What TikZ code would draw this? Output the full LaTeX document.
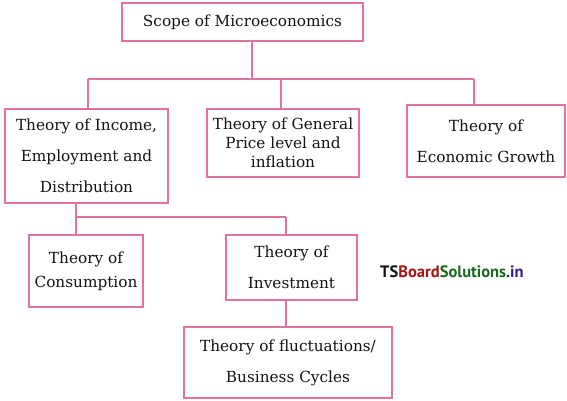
\documentclass[tikz,border=0pt]{standalone}
\usepackage{fontspec}
\setmainfont{DejaVu Serif}
\newfontfamily\wmfont{PT Sans}
\definecolor{linepink}{RGB}{228,112,160}
\definecolor{txt}{RGB}{20,20,20}
\definecolor{wmred}{RGB}{160,20,20}
\definecolor{wmgreen}{RGB}{25,105,30}
\definecolor{wmblue}{RGB}{55,25,140}
\begin{document}
\begin{tikzpicture}[x=1pt,y=-1pt,
  box/.style={draw=linepink, line width=1.1pt, rectangle, inner sep=0pt, align=center, text=txt},
  link/.style={draw=linepink, line width=1.1pt},
  wide/.style={font=\fontsize{15.3}{31}\selectfont},
  mid/.style={font=\fontsize{15.3}{24}\selectfont},
  tight/.style={font=\fontsize{15.3}{19}\selectfont}]
\useasboundingbox (0,0) rectangle (567,400);
\fill[white] (0,0) rectangle (567,400);
\node[box, wide, minimum width=241pt, minimum height=38pt] (top) at (242.5,22) {Scope of Microeconomics};
\node[box, wide, minimum width=163pt, minimum height=94pt] (inc) at (86.5,156) {Theory of Income,\\Employment and\\Distribution};
\node[box, tight, minimum width=152pt, minimum height=68pt] (gen) at (283,143) {Theory of General\\Price level and\\inflation};
\node[box, wide, minimum width=158pt, minimum height=72pt] (gro) at (486,141) {Theory of\\Economic Growth};
\node[box, mid, minimum width=114pt, minimum height=72pt] (con) at (86,271) {Theory of\\Consumption};
\node[box, wide, minimum width=131pt, minimum height=65pt] (inv) at (291.5,267.5) {Theory of\\Investment};
\node[box, wide, minimum width=208pt, minimum height=71pt] (flu) at (288,362.5) {Theory of fluctuations/\\Business Cycles};
\node[font=\wmfont\bfseries\fontsize{16.5}{18}\selectfont, inner sep=0pt, anchor=base west] (wm) at (380,277)
  {\textcolor{txt}{TS}\textcolor{wmred}{Board}\textcolor{wmgreen}{Solutions}\textcolor{wmblue}{.in}};
% junctions
\coordinate (j1) at (252,79);
\coordinate (hL) at (88,79);
\coordinate (hM) at (281,79);
\coordinate (hR) at (474,79);
\coordinate (k1) at (76,217);
\coordinate (kR) at (286,217);
\draw[link] (j1 |- top.south) -- (j1);
\draw[link] (hL) -- (hR);
\draw[link] (hL) -- (hL |- inc.north);
\draw[link] (hM) -- (hM |- gen.north);
\draw[link] (hR) -- (hR |- gro.north);
\draw[link] (k1 |- inc.south) -- (k1) -- (kR);
\draw[link] (k1) -- (k1 |- con.north);
\draw[link] (kR) -- (kR |- inv.north);
\draw[link] (kR |- inv.south) -- (kR |- flu.north);
\end{tikzpicture}
\end{document}
